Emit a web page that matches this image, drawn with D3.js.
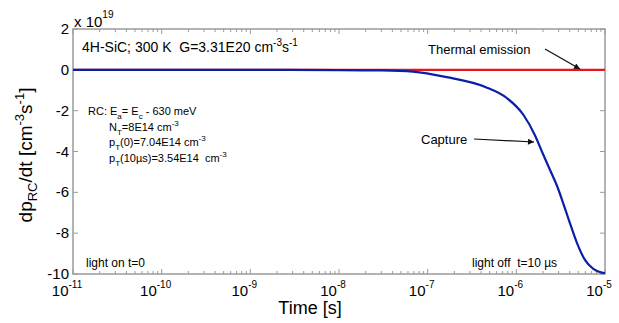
<!DOCTYPE html>
<html>
<head>
<meta charset="utf-8">
<script src="https://cdn.jsdelivr.net/npm/d3@7"></script>
<style>
  body { margin: 0; background: #fff; }
  svg { font-family: "Liberation Sans", Arial, sans-serif; }
  text { white-space: pre; }
</style>
</head>
<body>
<svg id="chart" width="619" height="323"></svg>
<script>
// time [s] and capture rate dp_RC/dt [x 1e19 cm^-3 s^-1]
const captureTime = [1e-11, 1e-10, 1e-9, 1e-8, 3e-8, 6.8e-8, 1.64e-7, 4.4e-7, 7.8e-7, 1.2e-6, 1.62e-6,
    2.01e-6, 2.5e-6, 2.85e-6, 3.39e-6, 4.03e-6, 4.8e-6, 5.94e-6, 7.38e-6, 9.18e-6, 1e-5];
const captureRate = [0, 0, 0, -0.01, -0.03, -0.09, -0.36, -0.83, -1.38, -2.2, -3.2,
    -4.15, -5.08, -5.64, -6.55, -7.52, -8.45, -9.31, -9.75, -9.93, -9.95];
const emissionTime = [1e-11, 1e-5];
const emissionRate = [0, 0];
const yTicks = [2, 0, -2, -4, -6, -8, -10];
const xDecades = [-11, -10, -9, -8, -7, -6, -5];

const svg = d3.select('#chart');
const margin = {left: 73, top: 29, right: 14, bottom: 49};
const width = 619 - margin.left - margin.right;
const height = 323 - margin.top - margin.bottom;
const AXIS_COLOR = '#9a9a9a';

const x = d3.scaleLog().domain([1e-11, 1e-5]).range([0, width]);
const y = d3.scaleLinear().domain([-10, 2]).range([height, 0]);

const g = svg.append('g').attr('transform', `translate(${margin.left},${margin.top})`);

// minor + major log ticks, pointing inward on top and bottom
const minorTicks = [];
xDecades.slice(0, -1).forEach(d => {
    for (let k = 2; k <= 9; k++) minorTicks.push(k * Math.pow(10, d));
});
const majorTicks = xDecades.map(d => Math.pow(10, d));

function tickMarks(sel, vals, len, top) {
    sel.selectAll(null).data(vals).enter().append('line')
        .attr('x1', d => x(d)).attr('x2', d => x(d))
        .attr('y1', top ? 0 : height).attr('y2', top ? len : height - len)
        .attr('stroke', AXIS_COLOR).attr('stroke-width', 1);
}
const ticks = g.append('g').attr('class', 'ticks');
tickMarks(ticks, minorTicks, 3, false);
tickMarks(ticks, minorTicks, 3, true);
tickMarks(ticks, majorTicks, 5, false);
tickMarks(ticks, majorTicks, 5, true);

ticks.selectAll(null).data(yTicks).enter().append('line')
    .attr('x1', 0).attr('x2', 5).attr('y1', d => y(d)).attr('y2', d => y(d))
    .attr('stroke', AXIS_COLOR);
ticks.selectAll(null).data(yTicks).enter().append('line')
    .attr('x1', width).attr('x2', width - 5).attr('y1', d => y(d)).attr('y2', d => y(d))
    .attr('stroke', AXIS_COLOR);

g.append('rect')
    .attr('width', width).attr('height', height)
    .attr('fill', 'none').attr('stroke', AXIS_COLOR).attr('stroke-width', 1.5);

// tick labels
g.selectAll('.ylab').data(yTicks).enter().append('text')
    .attr('class', 'ylab')
    .attr('x', -4).attr('y', d => y(d) + 5)
    .attr('text-anchor', 'end')
    .attr('font-size', 15)
    .text(d => d);

const xl = g.selectAll('.xlab').data(xDecades).enter().append('text')
    .attr('class', 'xlab')
    .attr('x', d => x(Math.pow(10, d)) - 6)
    .attr('y', height + 22)
    .attr('text-anchor', 'middle')
    .attr('font-size', 15);
xl.append('tspan').text('10');
xl.append('tspan').attr('dy', -8).attr('font-size', 10).text(d => d);

// exponent
const ex = g.append('text').attr('x', 1).attr('y', -2).attr('font-size', 15);
ex.append('tspan').text('x 10');
ex.append('tspan').attr('dy', -9).attr('font-size', 10).text('19');

// lines
const line = d3.line().x(d => x(d[0])).y(d => y(d[1]));
g.append('path')
    .datum(d3.zip(emissionTime, emissionRate))
    .attr('d', line).attr('fill', 'none')
    .attr('stroke', '#e8141c').attr('stroke-width', 2.2);
g.append('path')
    .datum(d3.zip(captureTime, captureRate))
    .attr('d', d3.line().curve(d3.curveMonotoneX).x(d => x(d[0])).y(d => y(d[1])))
    .attr('fill', 'none')
    .attr('stroke', '#0a1fa8').attr('stroke-width', 2.2);

// axis titles
svg.append('text')
    .attr('x', 310).attr('y', 314)
    .attr('text-anchor', 'middle').attr('font-size', 18)
    .text('Time [s]');

const yt = svg.append('text')
    .attr('transform', 'translate(32,155) rotate(-90)')
    .attr('text-anchor', 'middle').attr('font-size', 19);
yt.append('tspan').text('dp');
yt.append('tspan').attr('dy', 5).attr('font-size', 13).text('RC');
yt.append('tspan').attr('dy', -5).text('/dt [cm');
yt.append('tspan').attr('dy', -8).attr('font-size', 13).text('-3');
yt.append('tspan').attr('dy', 8).text('s');
yt.append('tspan').attr('dy', -8).attr('font-size', 13).text('-1');
yt.append('tspan').attr('dy', 8).text(']');

// annotations
const head = svg.append('text').attr('x', 82).attr('y', 52).attr('font-size', 14);
head.append('tspan').text('4H-SiC; 300 K  G=3.31E20 cm');
head.append('tspan').attr('dy', -6).attr('font-size', 10).text('-3');
head.append('tspan').attr('dy', 6).text('s');
head.append('tspan').attr('dy', -6).attr('font-size', 10).text('-1');

svg.append('defs').append('marker')
    .attr('id', 'arrow').attr('viewBox', '0 0 10 10')
    .attr('refX', 10).attr('refY', 5)
    .attr('markerWidth', 8).attr('markerHeight', 6)
    .attr('markerUnits', 'userSpaceOnUse')
    .attr('orient', 'auto')
    .append('path').attr('d', 'M0,0 L10,5 L0,10 z').attr('fill', '#111');

svg.append('text').attr('x', 428).attr('y', 54).attr('font-size', 13).text('Thermal emission');
svg.append('line').attr('x1', 545).attr('y1', 49).attr('x2', 580).attr('y2', 69)
    .attr('stroke', '#111').attr('stroke-width', 1.2).attr('marker-end', 'url(#arrow)');

svg.append('text').attr('x', 421).attr('y', 144).attr('font-size', 13).text('Capture');
svg.append('line').attr('x1', 474).attr('y1', 139).attr('x2', 534).attr('y2', 142)
    .attr('stroke', '#111').attr('stroke-width', 1.2).attr('marker-end', 'url(#arrow)');

// trap parameters block
const rcLines = [
    [['RC: E', 0], ['a', 4], ['= E', -4], ['c', 4], [' - 630 meV', -4]],
    [['N', 0], ['T', 4], ['=8E14 cm', -4], ['-3', -5]],
    [['p', 0], ['T', 4], ['(0)=7.04E14 cm', -4], ['-3', -5]],
    [['p', 0], ['T', 4], ['(10\u00b5s)=3.54E14  cm', -4], ['-3', -5]]
];
rcLines.forEach((parts, i) => {
    const t = svg.append('text')
        .attr('x', i === 0 ? 88 : 109).attr('y', 115 + i * 15.5)
        .attr('font-size', 11);
    parts.forEach(([s, dy], j) => {
        const small = (j > 0 && (s === 'a' || s === 'c' || s === 'T' || s === '-3'));
        t.append('tspan').attr('dy', dy).attr('font-size', small ? 8 : 11).text(s);
    });
});

svg.append('text').attr('x', 86).attr('y', 267).attr('font-size', 12).text('light on t=0');
svg.append('text').attr('x', 472).attr('y', 267).attr('font-size', 12).text('light off  t=10 \u00b5s');
</script>
</body>
</html>
